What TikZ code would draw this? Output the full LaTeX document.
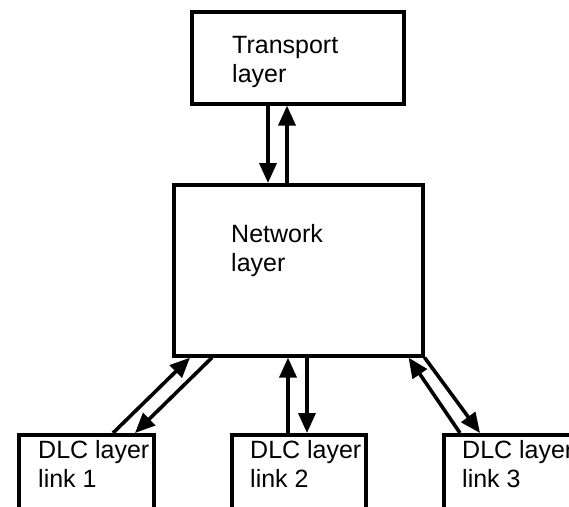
\documentclass[tikz,border=0pt]{standalone}
\usepackage{fontspec}
\setmainfont{Liberation Sans}
\usepackage{tikz}
\usetikzlibrary{calc,arrows.meta}

\tikzset{
    layerbox/.style={draw, line width=3.6pt, rectangle, inner sep=0pt, anchor=north west},
    layertext/.style={anchor=base west, inner sep=0pt, align=left, font=\fontsize{25}{29}\selectfont},
    flow/.style={line width=3.6pt, -{Triangle[length=20pt,width=17pt]}}
}

\begin{document}
\begin{tikzpicture}[x=1pt, y=-1pt]
    \useasboundingbox (0,0) rectangle (569,506);
    \clip (0,0) rectangle (569,506);

    % Boxes
    \node[layerbox, minimum width=212pt, minimum height=92pt] (tr) at (190,10) {};
    \node[layerbox, minimum width=249pt, minimum height=171pt] (net) at (172,183) {};
    \node[layerbox, minimum width=135pt, minimum height=100pt] (dlc1) at (17,433) {};
    \node[layerbox, minimum width=134pt, minimum height=100pt] (dlc2) at (230,433) {};
    \node[layerbox, minimum width=150pt, minimum height=100pt] (dlc3) at (442,433) {};

    % Labels (base = baseline of last line)
    \node[layertext] (trtext) at (232,82) {Transport\\layer};
    \node[layertext] (nettext) at (231,271) {Network\\layer};
    \node[layertext] (dlctext1) at (38,487) {DLC layer\\link 1};
    \node[layertext] (dlctext2) at (250,487) {DLC layer\\link 2};
    \node[layertext] (dlctext3) at (462,487) {DLC layer\\link 3};

    % Transport <-> Network
    \draw[flow] ($(tr.south west)+(78,0)$) -- ($(net.north west)+(96,0)$);
    \draw[flow] ($(net.north west)+(115,0)$) -- ($(tr.south west)+(97,0)$);

    % Network <-> DLC links
    \draw[flow] ($(dlc1.north west)+(96,0)$) -- ($(net.south west)+(18,0)$);
    \draw[flow] ($(net.south west)+(40,0)$) -- ($(dlc1.north west)+(118,0)$);
    \draw[flow] ($(dlc2.north west)+(58,0)$) -- ($(net.south west)+(116,0)$);
    \draw[flow] ($(net.south west)+(135,0)$) -- ($(dlc2.north west)+(77,0)$);
    \draw[flow] ($(dlc3.north west)+(18,0)$) -- ($(net.south east)+(-16,0)$);
    \draw[flow] (net.south east) -- ($(dlc3.north west)+(38,0)$);
\end{tikzpicture}
\end{document}
